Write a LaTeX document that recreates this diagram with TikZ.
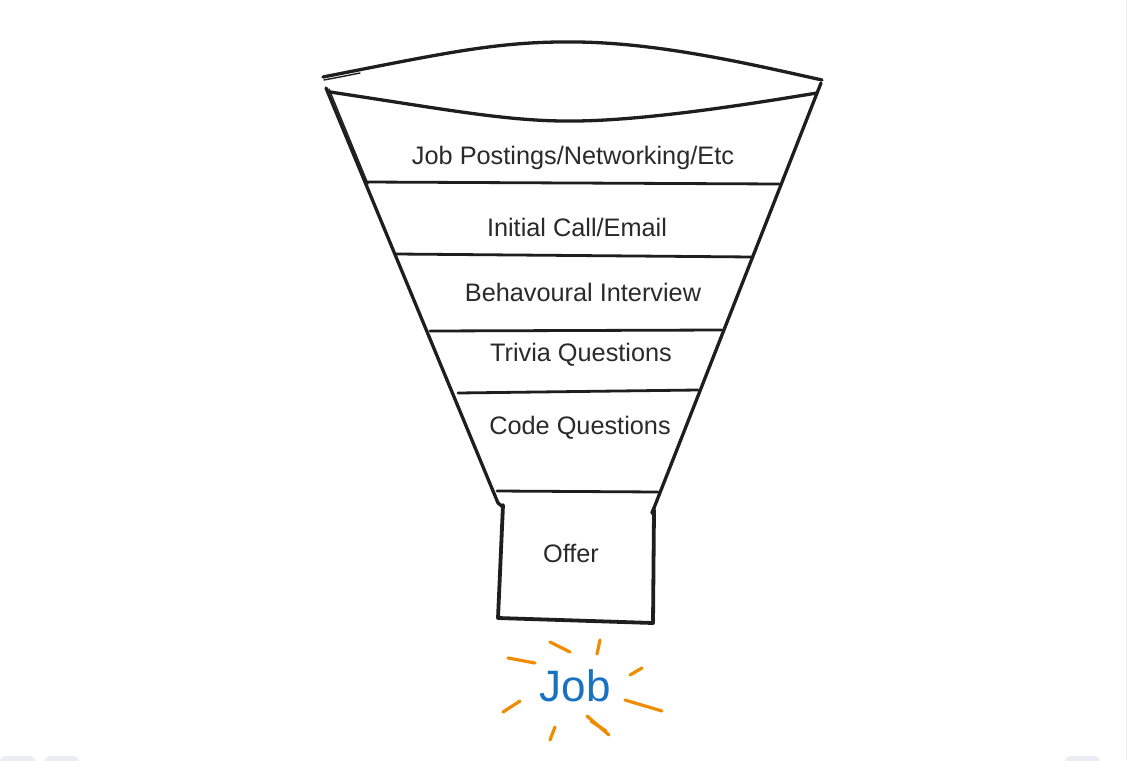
\documentclass[tikz,border=0pt]{standalone}
\usepackage{fontspec}
\setmainfont{Liberation Sans}
\usepackage{tikz}
\usepackage{xcolor}
\usetikzlibrary{positioning}
\definecolor{ink}{HTML}{1E1E1E}
\definecolor{label}{HTML}{2A2A2A}
\definecolor{jobblue}{HTML}{1971C2}
\definecolor{spark}{HTML}{F08C00}
\definecolor{uigray}{HTML}{ECECF4}
\tikzset{pen/.style={draw=ink, line width=3.3pt, line cap=round, line join=round}}
\tikzset{thinpen/.style={draw=ink, line width=2.8pt, line cap=round}}
\tikzset{sparkle/.style={draw=spark, line width=3.2pt, line cap=round}}
\tikzset{stage/.style={inner sep=0pt, text=label, font=\fontsize{25.3}{29}\selectfont}}

\begin{document}
\begin{tikzpicture}[x=1pt, y=-1pt]
                        \useasboundingbox (0,0) rectangle (1131,760);
                        \fill[white] (0,0) rectangle (1131,760);
                        \fill[uigray, rounded corners=6pt] (0,756) rectangle (35,775);
                        \fill[uigray, rounded corners=6pt] (45,756) rectangle (79,775);
                        \fill[uigray, rounded corners=6pt] (1065,756) rectangle (1100,775);
                        \draw[uigray, line width=1pt] (1126,0) -- (1126,760);

                        \draw[pen] (323,77) .. controls (450,52) and (500,41) .. (577,42)
                            .. controls (660,43) and (750,64) .. (822,80);
                        \draw[pen, line width=1.4pt] (324,80) .. controls (340,77) .. (360,73);
                        \draw[pen] (330,92) .. controls (450,110) and (510,122) .. (577,121)
                            .. controls (650,120) and (750,104) .. (817,93);

                        \draw[pen] (326,88) -- (498,503);
                        \draw[pen, line width=1.4pt] (329,89) -- (368,184);
                        \draw[pen] (821,83) -- (652,513);

                        \draw[thinpen] (366,182) -- (779,184);
                        \draw[thinpen] (396,254) -- (753,257);
                        \draw[thinpen] (430,331) -- (722,330);
                        \draw[thinpen] (458,393) -- (698,390);
                        \draw[thinpen] (497,491) -- (658,492);

                        \draw[pen, line width=3.8pt] (503,505) -- (498,618) -- (653,623) -- (654,510);
                        \draw[pen] (498,503) -- (503,507);
                        \draw[pen] (652,513) -- (654,508);

                        \node[stage] (postings) at (573,158) {Job Postings/Networking/Etc};
                        \node[stage] (call) at (577,227) {Initial Call/Email};
                        \node[stage] (behaviour) at (583,292) {Behavoural Interview};
                        \node[stage] (trivia) at (581,355) {Trivia Questions};
                        \node[stage] (code) at (580,428) {Code Questions};
                        \node[stage] (offer) at (571,553) {Offer};
                        \node[inner sep=0pt, text=jobblue, font=\fontsize{44}{50}\selectfont] (job) at (575,686) {Job};

                        \draw[sparkle] (508,658) -- (535,663);
                        \draw[sparkle] (550,642) -- (570,652);
                        \draw[sparkle] (600,640) -- (597,654);
                        \draw[sparkle] (642,668) -- (630,675);
                        \draw[sparkle] (625,700) -- (662,711);
                        \draw[sparkle] (587,716) -- (609,735);
                        \draw[sparkle] (591,721) -- (606,731);
                        \draw[sparkle] (555,727) -- (550,740);
                        \draw[sparkle] (520,701) -- (503,712);
                    \end{tikzpicture}
\end{document}
